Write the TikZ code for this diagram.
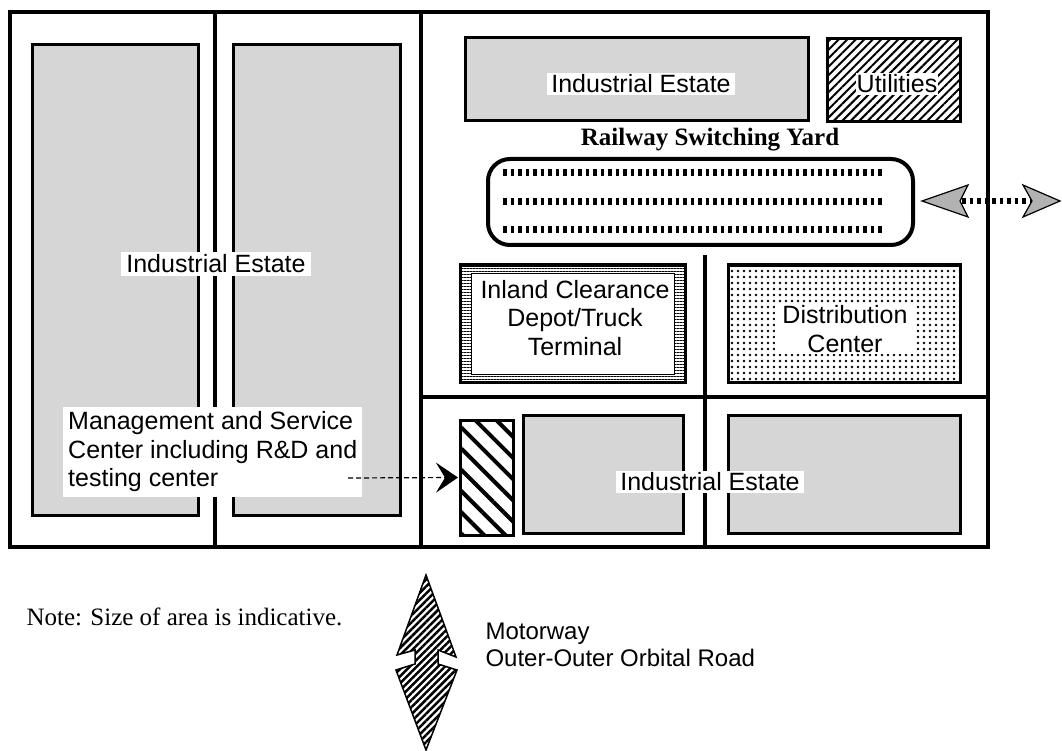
\documentclass[tikz,border=0pt]{standalone}
\usepackage{fontspec}
\setmainfont{Liberation Serif}
\setsansfont{Liberation Sans}
\usetikzlibrary{patterns.meta,arrows.meta}
\begin{document}
\begin{tikzpicture}[x=1pt,y=-1pt,
  frame/.style={draw, line width=3.5pt},
  area/.style={draw, line width=3pt, rectangle, inner sep=0pt},
  estate/.style={area, fill=gray!32},
  lbl/.style={fill=white, inner xsep=4pt, inner ysep=2pt, align=center,
              font=\sffamily\fontsize{25}{28.5}\selectfont},
  rails/.style={line width=7pt, dash pattern=on 3.5pt off 4pt},
  bigarrow/.style={draw, line width=1.2pt, fill=gray!60, line join=miter}
]
\useasboundingbox (0,0) rectangle (1062,751);

% frame and dividers
\draw[frame] (10,12) rectangle (988,547);
\draw[frame] (421,12) -- (421,547);
\draw[frame] (215,12) -- (215,547);
\draw[frame] (421,397) -- (988,397);
\draw[frame] (705,255) -- (705,547);

% left estates
\node[estate, minimum width=166pt, minimum height=470pt] (L1) at (115,280) {};
\node[estate, minimum width=167pt, minimum height=470pt] (L2) at (316.5,280) {};

% top right
\node[estate, minimum width=343pt, minimum height=83pt] (TIE) at (636.5,79.5) {};
\node[area, minimum width=133pt, minimum height=83pt,
      pattern={Lines[angle=45,distance=6pt,line width=2pt]}] (UT) at (893.5,80.5) {};

% railway yard
\node[area, line width=4pt, rounded corners=22pt, minimum width=425pt, minimum height=86pt] (YD) at (700.5,202) {};
\draw[rails] (503,173) -- (885,173);
\draw[rails] (503,202) -- (885,202);
\draw[rails] (503,230) -- (885,230);

% railway double arrow
\draw[bigarrow] (922,201) -- (968,185) -- (960,201) -- (968,217) -- cycle;
\draw[bigarrow] (1060,201) -- (1023,185) -- (1032,201) -- (1023,217) -- cycle;
\draw[line width=6pt, dash pattern=on 3.5pt off 4pt] (962,201) -- (1030,201);

% ICD
\node[area, minimum width=225pt, minimum height=117pt,
      pattern={Lines[angle=0,distance=3pt,line width=0.9pt]}] (ICD) at (572.5,323.5) {};
\node[draw, line width=1pt, fill=white, inner sep=0pt, minimum width=203pt, minimum height=101pt] (ICDi) at (572.5,323.5) {};

% Distribution
\node[area, minimum width=232pt, minimum height=117pt, fill=white,
      postaction={pattern={Dots[distance=6pt,radius=1.3pt]}}] (DC) at (844,323.5) {};

% bottom
\node[area, minimum width=53pt, minimum height=115pt,
      pattern={Lines[angle=-45,distance=15pt,line width=4pt]}] (MH) at (486.5,477.5) {};
\node[estate, minimum width=160pt, minimum height=118pt] (BIE1) at (603,474) {};
\node[estate, minimum width=232pt, minimum height=118pt] (BIE2) at (844,474) {};

% labels
\node[lbl, inner xsep=5pt, inner ysep=3pt] (tIEl) at (216,264) {Industrial Estate};
\node[lbl] (tIEt) at (641,84) {Industrial Estate};
\node[lbl, inner xsep=1pt] (tUT) at (897,84) {Utilities};
\node[font=\rmfamily\bfseries\fontsize{25}{28}\selectfont] (tRSY) at (710,140) {Railway Switching Yard};
\node[lbl, fill=none] (tICD) at (575,318) {Inland Clearance\\Depot/Truck\\Terminal};
\node[lbl, inner xsep=7pt] (tDC) at (845,329) {Distribution\\Center};
\node[lbl] (tIEb) at (710,482) {Industrial Estate};
\node[lbl, align=left, anchor=west, inner sep=5pt] (tMS) at (63,452)
  {Management and Service\\Center including R\&D and\\testing center};

% management arrow
\coordinate (ms) at (348,478);
\draw[line width=1.2pt, dash pattern=on 5pt off 3pt,
      -{Stealth[length=22pt,width=30pt,inset=9pt]}] (ms) -- (MH.west);

% motorway arrow
\draw[line width=1.5pt, line join=miter,
      pattern={Lines[angle=45,distance=5pt,line width=2.5pt]}]
  (426,575) -- (456,657) -- (438,650) -- (438,664) -- (457,670) -- (426,750)
  -- (396,670) -- (415,664) -- (415,650) -- (397,655) -- cycle;

\node[anchor=west, align=left, font=\sffamily\fontsize{24}{27}\selectfont] (tMot) at (482,645)
  {Motorway\\Outer-Outer Orbital Road};
\node[anchor=west, font=\rmfamily\fontsize{25}{28}\selectfont] (tNote) at (23,617)
  {Note: Size of area is indicative.};
\end{tikzpicture}
\end{document}
